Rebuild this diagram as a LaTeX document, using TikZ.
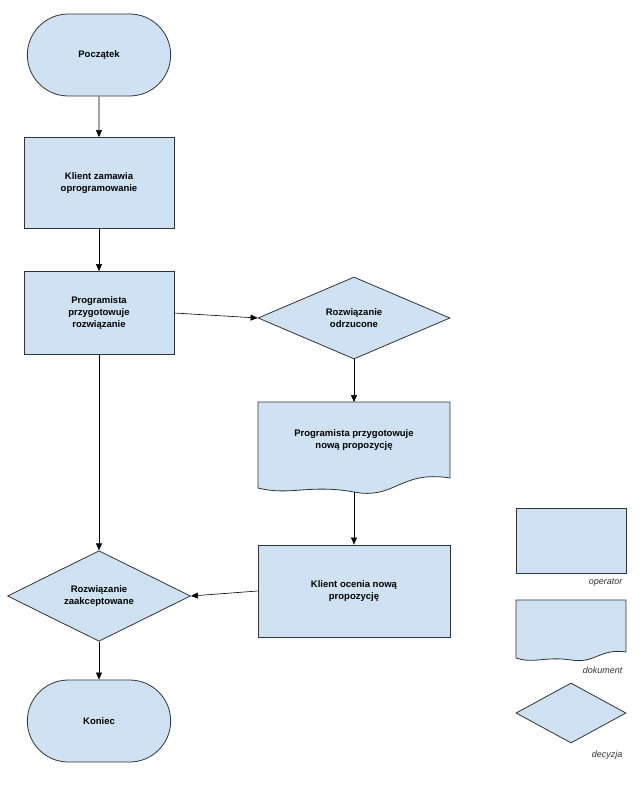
\documentclass[tikz,border=0pt]{standalone}
\usepackage{fontspec}
\setmainfont{Liberation Sans}
\usetikzlibrary{shapes.geometric,shapes.misc,arrows.meta}
\definecolor{fillb}{HTML}{CFE2F3}
\definecolor{edge}{HTML}{333333}
\tikzset{x=1pt,y=-1pt,
 base/.style={draw=edge,fill=fillb,line width=0.8pt,font=\fontsize{9.5}{12}\selectfont\bfseries,align=center},
 term/.style={base,rounded rectangle,minimum width=150pt,minimum height=82pt},
 proc/.style={base,rectangle,minimum width=150pt},
 dec/.style={base,diamond,aspect=2.3,inner sep=0pt},
 leg/.style={font=\fontsize{9}{11}\selectfont\itshape,text=edge},
 arr/.style={-{Triangle[length=7pt,width=6pt]},line width=0.6pt}}
\begin{document}
\begin{tikzpicture}
\useasboundingbox (0,0) rectangle (640,786);
\node[term] (start) at (99,55) {Początek};
\node[proc,minimum height=91pt] (b1) at (99,183) {Klient zamawia\\oprogramowanie};
\node[proc,minimum height=83pt] (b2) at (99,313) {Programista\\przygotowuje\\rozwiązanie};
\node[base,diamond,minimum width=192pt,minimum height=82pt,inner sep=0pt] (d1) at (354,318) {Rozwiązanie\\odrzucone};
\coordinate (dtop) at (354,402);
\draw[base] (258,402) -- (450,402) -- (450,478) .. controls (400,470) and (395,500) .. (354,492) .. controls (310,484) and (290,496) .. (258,488) -- cycle;
\node[font=\fontsize{9.5}{12}\selectfont\bfseries,align=center] (doc) at (354,440) {Programista przygotowuje\\nową propozycję};
\coordinate (dbot) at (354,492);
\node[proc,minimum width=192pt,minimum height=92pt] (b3) at (354,591) {Klient ocenia nową\\propozycję};
\node[base,diamond,minimum width=183pt,minimum height=83pt,inner sep=0pt] (d2) at (99,596) {Rozwiązanie\\zaakceptowane};
\node[term] (end) at (99,721) {Koniec};
\draw[arr] (start) -- (b1);
\draw[arr] (b1) -- (b2);
\draw[arr] (b2.east) -- (d1.west);
\draw[arr] (d1.south) -- (dtop);
\draw[arr] (dbot) -- (b3.north);
\draw[arr] (b3.west) -- (d2.east);
\draw[arr] (b2.south) -- (d2.north);
\draw[arr] (d2.south) -- (end.north);
% legend
\node[proc,minimum width=110pt,minimum height=65pt] (l1) at (571,541) {};
\node[leg,anchor=east] (t1) at (626,583) {operator};
\draw[base] (516,600) -- (626,600) -- (626,652) .. controls (600,648) and (595,664) .. (571,660) .. controls (545,656) and (535,664) .. (516,658) -- cycle;
\node[leg,anchor=east] (t2) at (626,670) {dokument};
\node[base,diamond,minimum width=110pt,minimum height=60pt,inner sep=0pt] (l3) at (571,713) {};
\node[leg,anchor=east] (t3) at (626,755) {decyzja};
\end{tikzpicture}
\end{document}
